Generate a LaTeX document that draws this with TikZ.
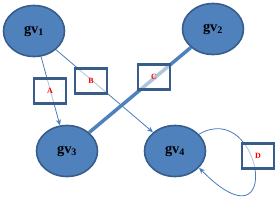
\documentclass[tikz,border=0pt]{standalone}
\usepackage{fontspec}
\setmainfont{Liberation Serif}
\usetikzlibrary{arrows.meta, shapes.geometric}
\definecolor{cfill}{HTML}{4F81BD}
\definecolor{cedge}{HTML}{385D8A}
\definecolor{cline}{HTML}{4A7EBB}
\tikzset{
  vertex/.style={ellipse, draw=cedge, fill=cfill, line width=1.6pt, minimum width=61pt, minimum height=51pt, inner sep=0pt, font=\bfseries\Large},
  tag/.style={draw=cedge, fill=white, fill opacity=0.55, draw opacity=1, text opacity=1, line width=2.4pt, minimum width=32pt, minimum height=25pt, inner sep=0pt, text=red, font=\bfseries\footnotesize},
  link/.style={-{Stealth[length=6pt, width=5pt]}, draw=cline, line width=0.8pt},
  bond/.style={draw=cfill, line width=3.5pt},
}
\begin{document}
\begin{tikzpicture}[x=1pt, y=-1pt]
  \useasboundingbox (0,0) rectangle (277,204);
  % graph vertices
  \node[vertex] (gv1) at (34,31) {gv$_\mathbf{1}$};
  \node[vertex] (gv2) at (213,29) {gv$_\mathbf{2}$};
  \node[vertex] (gv3) at (67,151) {gv$_\mathbf{3}$};
  \node[vertex] (gv4) at (175,151) {gv$_\mathbf{4}$};
  % edges
  \draw[link] (gv1) -- (gv3);
  \draw[link] (gv1) -- (gv4);
  \draw[bond] (gv2) -- (gv3);
  \draw[link] (gv4.35) .. controls (262,98) and (285,255) .. (gv4.-35);
  % edge labels
  \node[tag] (tagA) at (50,91) {A};
  \node[tag] (tagB) at (91,81) {B};
  \node[tag] (tagC) at (154,77) {C};
  \node[tag] (tagD) at (258,156) {D};
\end{tikzpicture}
\end{document}
